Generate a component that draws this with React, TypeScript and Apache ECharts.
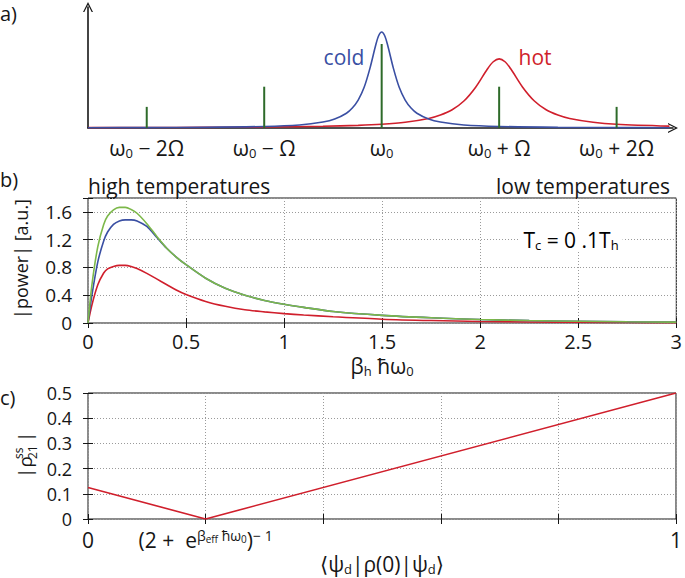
import React, { useEffect, useRef } from 'react';
import * as echarts from 'echarts';

const FONT = '"Open Sans", "DejaVu Sans", sans-serif';
const INK = '#161616';
const BLUE = '#3a4fa3';
const RED = '#d01f2c';
const GREEN = '#7cb84a';
const DKGREEN = '#2e6b2a';

// ---------- panel a ----------
const aTickValues = [-2, -1, 0, 1, 2];
const aTickSuffix = [' − 2Ω', ' − Ω', '', ' + Ω', ' + 2Ω'];
const aStickX = [-2, -1, 0, 1, 2];
const aStickHeight = [0.22, 0.43, 0.875, 0.43, 0.22];
const aColdX = [-2.5, -2.0, -1.5, -1.0, -0.7, -0.5, -0.4, -0.3, -0.25, -0.2, -0.15, -0.1, -0.05, -0.025, 0, 0.025, 0.05, 0.1, 0.15, 0.2, 0.25, 0.3, 0.4, 0.5, 0.7, 1.0, 1.5, 2.0, 2.45];
const aColdY = [0.003, 0.004, 0.007, 0.016, 0.032, 0.062, 0.093, 0.154, 0.208, 0.291, 0.421, 0.621, 0.867, 0.963, 1.0, 0.963, 0.867, 0.621, 0.421, 0.291, 0.208, 0.154, 0.093, 0.062, 0.032, 0.016, 0.007, 0.004, 0.003];
const aHotX = [-2.5, -2.0, -1.5, -1.0, -0.5, -0.2, 0, 0.2, 0.4, 0.5, 0.6, 0.7, 0.8, 0.9, 0.95, 1.0, 1.05, 1.1, 1.2, 1.3, 1.4, 1.5, 1.6, 1.8, 2.0, 2.45];
const aHotY = [0.0034, 0.0046, 0.0066, 0.0102, 0.018, 0.0277, 0.039, 0.0595, 0.099, 0.135, 0.19, 0.281, 0.425, 0.614, 0.69, 0.72, 0.69, 0.614, 0.425, 0.281, 0.19, 0.135, 0.099, 0.0595, 0.039, 0.0192];

// ---------- panel b ----------
const bX = [0, 0.02, 0.05, 0.08, 0.1, 0.13, 0.16, 0.19, 0.22, 0.25, 0.3, 0.35, 0.4, 0.45, 0.5, 0.6, 0.7, 0.8, 0.9, 1.0, 1.1, 1.25, 1.5, 1.75, 2.0, 2.25, 2.5, 2.75, 3.0];
const bGreen = [0, 0.55, 1.1, 1.42, 1.54, 1.63, 1.665, 1.665, 1.635, 1.58, 1.43, 1.25, 1.08, 0.95, 0.84, 0.645, 0.5, 0.4, 0.325, 0.27, 0.225, 0.165, 0.11, 0.075, 0.05, 0.035, 0.025, 0.017, 0.012];
const bBlue = [0, 0.4, 0.88, 1.18, 1.31, 1.42, 1.47, 1.485, 1.485, 1.47, 1.39, 1.235, 1.08, 0.95, 0.84, 0.645, 0.5, 0.4, 0.325, 0.27, 0.225, 0.165, 0.11, 0.075, 0.05, 0.035, 0.025, 0.017, 0.012];
const bRed = [0, 0.26, 0.55, 0.72, 0.78, 0.815, 0.83, 0.83, 0.815, 0.785, 0.715, 0.635, 0.555, 0.475, 0.41, 0.31, 0.24, 0.19, 0.16, 0.135, 0.115, 0.09, 0.055, 0.035, 0.022, 0.015, 0.01, 0.007, 0.005];

// ---------- panel c ----------
const cX = [0, 0.2, 1];
const cY = [0.125, 0, 0.5];
const cLabelValues = [0, 0.2, 1];

const zip = (xs: number[], ys: number[]) => xs.map((x, i) => [x, ys[i]]);

const RICH = {
  t: { fontFamily: FONT, fontSize: 21, color: INK, lineHeight: 22 },
  s: { fontFamily: FONT, fontSize: 13, color: INK, lineHeight: 12, padding: [10, 0, 0, 0] },
  p: { fontFamily: FONT, fontSize: 14, color: INK, lineHeight: 12, padding: [0, 0, 10, 0] },
  q: { fontFamily: FONT, fontSize: 10, color: INK, lineHeight: 8, padding: [6, 0, 8, 0] },
};

const CHEVRON = 'path://M0,12 L6,0 L12,12 L10.4,12 L6,3.2 L1.6,12 Z';

const dotted = { show: true, lineStyle: { color: '#9a9a9a', width: 1, type: [1, 2] as any } };
const tickIn = { show: true, inside: true, length: 5, lineStyle: { color: INK, width: 1 } };
const xLbl = { fontFamily: FONT, fontSize: 20, color: INK, lineHeight: 20 };
const yLbl = { fontFamily: FONT, fontSize: 18, color: INK, lineHeight: 18 };

export default function App() {
  const ref = useRef<HTMLDivElement>(null);
  useEffect(() => {
    const chart = echarts.init(ref.current!, null, { renderer: 'svg' });
    const option: any = {
      animation: false,
      backgroundColor: '#fff',
      grid: [
        { left: 88, top: 7, width: 585, height: 121 },
        { left: 88, top: 198, width: 591, height: 125, show: true, borderColor: INK, borderWidth: 1 },
        { left: 88, top: 393, width: 591, height: 126, show: true, borderColor: INK, borderWidth: 1 },
      ],
      xAxis: [
        {
          gridIndex: 0, type: 'value', min: -2.5, max: 2.48,
          axisLine: { show: true, onZero: false, symbol: ['none', CHEVRON], symbolSize: [10, 12], lineStyle: { color: INK, width: 1.6 } },
          axisTick: { show: false }, splitLine: { show: false },
          axisLabel: {
            customValues: aTickValues, margin: 9,
            formatter: (v: number) => {
              const i = aTickValues.indexOf(v);
              const suf = aTickSuffix[i];
              return '{t|ω}{s|0}' + (suf ? '{t|' + suf + '}' : '');
            },
            rich: RICH,
          },
        },
        {
          gridIndex: 1, type: 'value', min: 0, max: 3, interval: 0.5,
          axisLine: { show: false }, axisTick: tickIn, splitLine: dotted,
          axisLabel: { ...xLbl, margin: 8 },
          name: '{t|β}{s|h}{t| ħω}{s|0}', nameLocation: 'middle', nameGap: 32,
          nameTextStyle: { rich: RICH },
        },
        {
          gridIndex: 1, type: 'value', min: 0, max: 3, interval: 0.5, position: 'top',
          axisLine: { show: false }, axisTick: tickIn, splitLine: { show: false }, axisLabel: { show: false },
        },
        {
          gridIndex: 2, type: 'value', min: 0, max: 1, interval: 0.2,
          axisLine: { show: false }, axisTick: tickIn, splitLine: dotted,
          axisLabel: {
            ...xLbl, margin: 10, customValues: cLabelValues,
            formatter: (v: number) => {
              if (v === 0) return '{t|0}';
              if (v === 1) return '{t|1}';
              return '{t|(2 +  e}{p|β}{q|eff}{p| ħω}{q|0}{t|)}{p|− 1}';
            },
            rich: RICH,
          },
          name: '{t|⟨ψ}{s|d}{t||ρ(0)|ψ}{s|d}{t|⟩}', nameLocation: 'middle', nameGap: 28,
          nameTextStyle: { rich: RICH },
        },
        {
          gridIndex: 2, type: 'value', min: 0, max: 1, interval: 0.2, position: 'top',
          axisLine: { show: false }, axisTick: tickIn, splitLine: { show: false }, axisLabel: { show: false },
        },
      ],
      yAxis: [
        {
          gridIndex: 0, type: 'value', min: 0, max: 1.26,
          axisLine: { show: true, onZero: false, symbol: ['none', CHEVRON], symbolSize: [10, 12], lineStyle: { color: INK, width: 1.6 } },
          axisTick: { show: false }, splitLine: { show: false }, axisLabel: { show: false },
        },
        {
          gridIndex: 1, type: 'value', min: 0, max: 1.8, interval: 0.4,
          axisLine: { show: false }, axisTick: tickIn, splitLine: dotted,
          axisLabel: {
            ...yLbl, fontSize: 19, margin: 16,
            formatter: (v: number) => (v > 1.7 ? '' : v === 0 ? '0' : v.toFixed(1)),
          },
        },
        {
          gridIndex: 1, type: 'value', min: 0, max: 1.8, interval: 0.4, position: 'right',
          axisLine: { show: false }, axisTick: tickIn, splitLine: { show: false }, axisLabel: { show: false },
        },
        {
          gridIndex: 2, type: 'value', min: 0, max: 0.5, interval: 0.1,
          axisLine: { show: false }, axisTick: tickIn, splitLine: dotted,
          axisLabel: {
            ...yLbl, margin: 16,
            formatter: (v: number) => (v === 0 ? '0' : v.toFixed(1)),
          },
        },
        {
          gridIndex: 2, type: 'value', min: 0, max: 0.5, interval: 0.1, position: 'right',
          axisLine: { show: false }, axisTick: tickIn, splitLine: { show: false }, axisLabel: { show: false },
        },
      ],
      series: [
        {
          type: 'line', xAxisIndex: 0, yAxisIndex: 0, data: zip(aHotX, aHotY), smooth: 0.3,
          showSymbol: false, lineStyle: { color: RED, width: 1.6 }, z: 3,
        },
        {
          type: 'line', xAxisIndex: 0, yAxisIndex: 0, data: zip(aColdX, aColdY), smooth: 0.3,
          showSymbol: false, lineStyle: { color: BLUE, width: 1.6 }, z: 3,
        },
        {
          type: 'bar', xAxisIndex: 0, yAxisIndex: 0, data: zip(aStickX, aStickHeight), barWidth: 2,
          itemStyle: { color: DKGREEN }, z: 4,
        },
        {
          type: 'line', xAxisIndex: 1, yAxisIndex: 1, data: zip(bX, bRed), smooth: 0.3,
          showSymbol: false, lineStyle: { color: RED, width: 1.6 },
        },
        {
          type: 'line', xAxisIndex: 1, yAxisIndex: 1, data: zip(bX, bBlue), smooth: 0.3,
          showSymbol: false, lineStyle: { color: BLUE, width: 1.6 },
        },
        {
          type: 'line', xAxisIndex: 1, yAxisIndex: 1, data: zip(bX, bGreen), smooth: 0.3,
          showSymbol: false, lineStyle: { color: GREEN, width: 1.6 },
        },
        {
          type: 'line', xAxisIndex: 3, yAxisIndex: 3, data: zip(cX, cY),
          showSymbol: false, lineStyle: { color: RED, width: 1.6 },
        },
      ],
      graphic: [
        { type: 'text', x: 0, y: 13, style: { text: 'a)', font: '20px ' + FONT, fill: INK, verticalAlign: 'middle' } },
        { type: 'text', x: 0, y: 179, style: { text: 'b)', font: '20px ' + FONT, fill: INK, verticalAlign: 'middle' } },
        { type: 'text', x: 0, y: 397, style: { text: 'c)', font: '20px ' + FONT, fill: INK, verticalAlign: 'middle' } },
        { type: 'text', x: 344, y: 57, style: { text: 'cold', font: '21px ' + FONT, fill: BLUE, align: 'center', verticalAlign: 'middle' } },
        { type: 'text', x: 535, y: 57, style: { text: 'hot', font: '21px ' + FONT, fill: RED, align: 'center', verticalAlign: 'middle' } },
        { type: 'text', x: 88, y: 186, style: { text: 'high temperatures', font: '21px ' + FONT, fill: INK, align: 'left', verticalAlign: 'middle' } },
        { type: 'text', x: 670, y: 186, style: { text: 'low temperatures', font: '21px ' + FONT, fill: INK, align: 'right', verticalAlign: 'middle' } },
        {
          type: 'text', x: 571, y: 240, z: 10,
          style: {
            text: '{t|T}{s|c}{t| = 0 .1T}{s|h}', rich: RICH, align: 'center', verticalAlign: 'middle',
            backgroundColor: '#fff', padding: [0, 4],
          },
        },
        {
          type: 'text', x: 21, y: 259, rotation: Math.PI / 2,
          style: { text: '|power| [a.u.]', font: '18px ' + FONT, fill: INK, align: 'center', verticalAlign: 'middle' },
        },
        {
          type: 'group', x: 25, y: 457, rotation: Math.PI / 2,
          children: [
            { type: 'text', x: -21, y: 0, style: { text: '|ρ', font: '19px ' + FONT, fill: INK, align: 'left', verticalAlign: 'middle' } },
            { type: 'text', x: -2, y: -7, style: { text: 'ss', font: '12px ' + FONT, fill: INK, align: 'left', verticalAlign: 'middle' } },
            { type: 'text', x: -2, y: 7, style: { text: '21', font: '12px ' + FONT, fill: INK, align: 'left', verticalAlign: 'middle' } },
            { type: 'text', x: 15, y: 0, style: { text: '|', font: '19px ' + FONT, fill: INK, align: 'left', verticalAlign: 'middle' } },
          ],
        },
      ],
    };
    chart.setOption(option);
    return () => chart.dispose();
  }, []);
  return <div ref={ref} style={{ position: 'absolute', left: 0, top: 0, width: 685, height: 578 }} />;
}
